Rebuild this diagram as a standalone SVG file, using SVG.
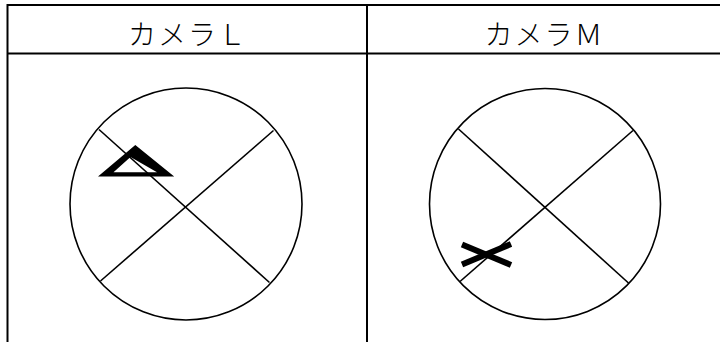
<svg xmlns="http://www.w3.org/2000/svg" width="720" height="342" viewBox="0 0 720 342">
<style>
.grid{stroke:#000;stroke-width:2;fill:none}
.c{stroke:#000;stroke-width:1.6;fill:none}
.t{font-family:"Liberation Serif","Noto Sans CJK JP",serif;font-size:28px;font-weight:300;fill:#000;text-anchor:middle;letter-spacing:2px}
</style>
<rect width="720" height="342" fill="#fff"/>
<g id="table">
<line class="grid" x1="7.5" y1="5" x2="720" y2="5"/>
<line class="grid" x1="7.5" y1="53.5" x2="720" y2="53.5"/>
<line class="grid" x1="7.5" y1="4" x2="7.5" y2="342"/>
<line class="grid" x1="367" y1="4" x2="367" y2="342"/>
</g>
<g id="header-L"><text class="t" x="188" y="45">カメラＬ</text></g>
<g id="header-M"><text class="t" x="544.5" y="45">カメラＭ</text></g>
<g id="camera-L">
<circle class="c" cx="186" cy="204" r="116"/>
<line class="c" x1="99" y1="129.5" x2="269.5" y2="282.5"/>
<line class="c" x1="273.5" y1="130.5" x2="100.5" y2="281"/>
<path d="M98,176.5 L135.3,145 L174.2,176.5 Z M113.5,172.3 L130.5,157 L157,172.3 Z" fill="#000" fill-rule="evenodd"/>
</g>
<g id="camera-M">
<circle class="c" cx="545" cy="204" r="115.5"/>
<line class="c" x1="458.5" y1="129" x2="628.5" y2="283"/>
<line class="c" x1="633" y1="130.5" x2="460" y2="281.5"/>
<line x1="462" y1="244.5" x2="511" y2="265" stroke="#000" stroke-width="6"/>
<line x1="462" y1="264.5" x2="511" y2="244" stroke="#000" stroke-width="6"/>
</g>
</svg>
